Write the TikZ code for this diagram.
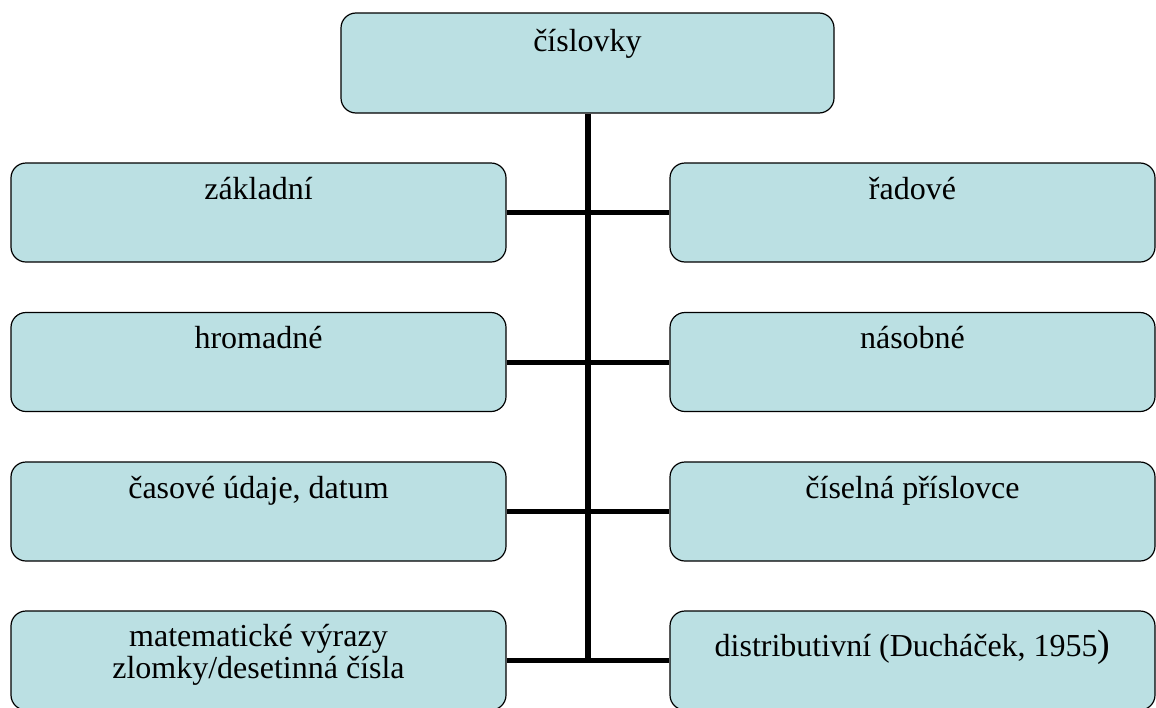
\documentclass[tikz,border=0pt]{standalone}
\usepackage{fontspec}
\setmainfont{Liberation Serif}
\usetikzlibrary{calc}
\definecolor{boxfill}{RGB}{187,224,227}
\tikzset{
  box/.style={draw=black, line width=1.2pt, fill=boxfill, rounded corners=15pt,
    inner sep=0pt, minimum height=99pt},
  wide/.style={box, minimum width=495pt},
  narrow/.style={box, minimum width=485pt},
  txt/.style={anchor=base, inner sep=0pt, align=center, text=black,
    font=\fontsize{32}{32}\selectfont},
  link/.style={line width=5pt, black},
  trunk/.style={line width=6pt, black}
}
\begin{document}
\begin{tikzpicture}[x=1pt, y=-1pt]
\useasboundingbox (0,0) rectangle (1156,707);
% root box
\node[box, minimum width=493pt, minimum height=100pt] (root) at (587.5,63) {};
% left column
\node[wide] (l1) at (258.5,212.5) {};
\node[wide] (l2) at (258.5,362) {};
\node[wide] (l3) at (258.5,511.5) {};
\node[wide] (l4) at (258.5,660.5) {};
% right column
\node[narrow] (r1) at (912.5,212.5) {};
\node[narrow] (r2) at (912.5,362) {};
\node[narrow] (r3) at (912.5,511.5) {};
\node[narrow] (r4) at (912.5,660.5) {};
% labels
\node[txt] (troot) at ($(root.north)+(0,39)$) {číslovky};
\node[txt] (tl1) at ($(l1.north)+(0,37)$) {základní};
\node[txt] (tl2) at ($(l2.north)+(0,37)$) {hromadné};
\node[txt] (tl3) at ($(l3.north)+(0,37)$) {časové údaje, datum};
\node[txt, anchor=north] (tl4) at ($(l4.north)+(0,14)$) {matematické výrazy\\zlomky/desetinná čísla};
\node[txt] (tr1) at ($(r1.north)+(0,37)$) {řadové};
\node[txt] (tr2) at ($(r2.north)+(0,37)$) {násobné};
\node[txt] (tr3) at ($(r3.north)+(0,37)$) {číselná příslovce};
\node[txt] (tr4) at ($(r4.north)+(0,46)$) {distributivní (Ducháček, 1955{\fontsize{38}{38}\selectfont)}};
% connectors
\coordinate (foot) at (root.south |- l4.east);
\draw[trunk] (root.south) -- (foot);
\draw[link] (l1.east) -- (r1.west);
\draw[link] (l2.east) -- (r2.west);
\draw[link] (l3.east) -- (r3.west);
\draw[link] (l4.east) -- (r4.west);
\end{tikzpicture}
\end{document}
